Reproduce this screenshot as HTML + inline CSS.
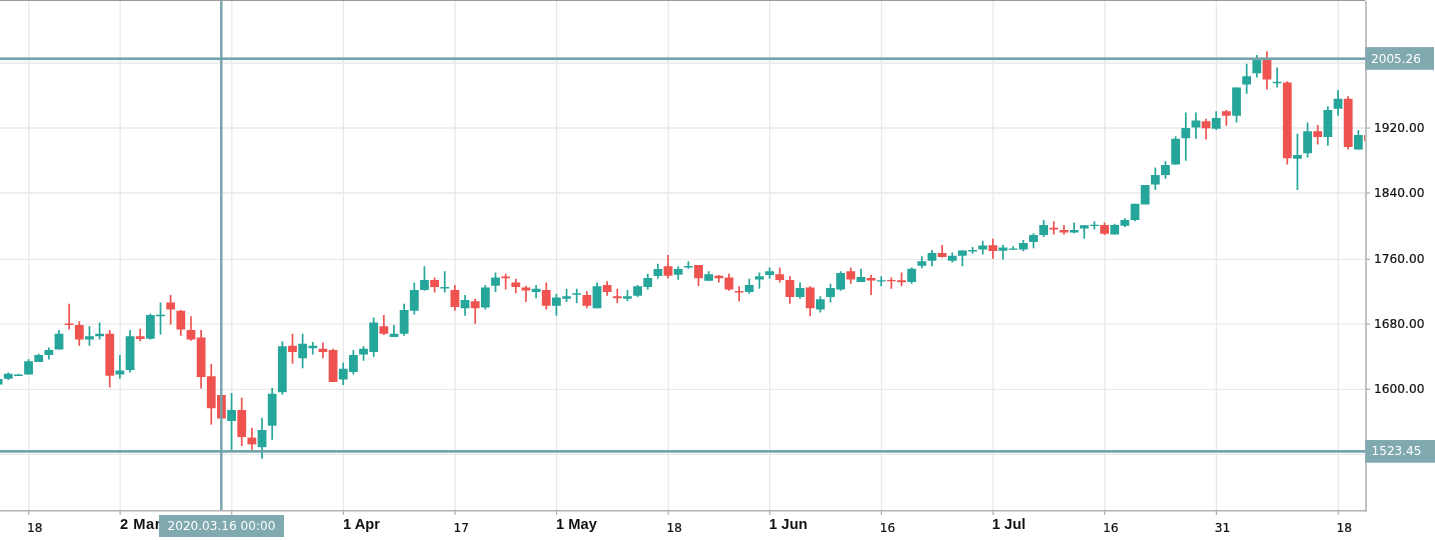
<!DOCTYPE html>
<html><head><meta charset="utf-8"><title>Chart</title>
<style>
html,body{margin:0;padding:0;background:#fff;}
body{width:1435px;height:540px;position:relative;overflow:hidden;font-family:"DejaVu Sans","Liberation Sans",sans-serif;}
.t{position:absolute;font-size:12.2px;line-height:15px;height:15px;white-space:nowrap;color:#111;-webkit-text-stroke:0.2px #111;}
.t.b{font-weight:bold;font-size:15px;line-height:17px;height:17px;font-family:"Liberation Sans",sans-serif;transform-origin:0 0;transform:scaleX(0.98);-webkit-text-stroke:0;}
.t.m{letter-spacing:0.5px;}
.t.w{color:#fff;-webkit-text-stroke:0;font-size:12.1px;}
.db{position:absolute;left:158.9px;top:515.2px;width:124.9px;height:22.2px;background:#80a9b0;}
</style></head><body>
<svg width="1435" height="540" viewBox="0 0 1435 540" style="position:absolute;left:0;top:0">
<defs><clipPath id="pane"><rect x="0" y="0" width="1365.3" height="510.5"/></clipPath></defs>
<g stroke="#e9e9e9" stroke-width="1.3" clip-path="url(#pane)">
<line x1="28.75" y1="0" x2="28.75" y2="510.5"/>
<line x1="120.11" y1="0" x2="120.11" y2="510.5"/>
<line x1="231.77" y1="0" x2="231.77" y2="510.5"/>
<line x1="343.43" y1="0" x2="343.43" y2="510.5"/>
<line x1="455.10" y1="0" x2="455.10" y2="510.5"/>
<line x1="556.61" y1="0" x2="556.61" y2="510.5"/>
<line x1="668.27" y1="0" x2="668.27" y2="510.5"/>
<line x1="769.78" y1="0" x2="769.78" y2="510.5"/>
<line x1="881.44" y1="0" x2="881.44" y2="510.5"/>
<line x1="993.10" y1="0" x2="993.10" y2="510.5"/>
<line x1="1104.76" y1="0" x2="1104.76" y2="510.5"/>
<line x1="1216.42" y1="0" x2="1216.42" y2="510.5"/>
<line x1="1338.23" y1="0" x2="1338.23" y2="510.5"/>
<line x1="0" y1="63" x2="1365.3" y2="63"/>
<line x1="0" y1="128" x2="1365.3" y2="128"/>
<line x1="0" y1="193" x2="1365.3" y2="193"/>
<line x1="0" y1="259.3" x2="1365.3" y2="259.3"/>
<line x1="0" y1="324.2" x2="1365.3" y2="324.2"/>
<line x1="0" y1="389.3" x2="1365.3" y2="389.3"/>
<line x1="0" y1="454.3" x2="1365.3" y2="454.3"/>
</g>
<g clip-path="url(#pane)">
<rect x="-2.75" y="378.5" width="1.7" height="6.50" fill="#26a69a"/>
<rect x="-6.30" y="379.0" width="8.8" height="5.50" fill="#26a69a"/>
<rect x="7.40" y="372.5" width="1.7" height="7.50" fill="#26a69a"/>
<rect x="3.85" y="373.75" width="8.8" height="5.00" fill="#26a69a"/>
<rect x="17.55" y="373.75" width="1.7" height="2.25" fill="#26a69a"/>
<rect x="14.00" y="374.5" width="8.8" height="1.50" fill="#26a69a"/>
<rect x="27.70" y="359.25" width="1.7" height="15.25" fill="#26a69a"/>
<rect x="24.15" y="361.25" width="8.8" height="13.25" fill="#26a69a"/>
<rect x="37.85" y="353.75" width="1.7" height="8.25" fill="#26a69a"/>
<rect x="34.30" y="355.0" width="8.8" height="7.00" fill="#26a69a"/>
<rect x="48.00" y="347.5" width="1.7" height="12.00" fill="#26a69a"/>
<rect x="44.45" y="350.0" width="8.8" height="5.00" fill="#26a69a"/>
<rect x="58.16" y="330.0" width="1.7" height="19.50" fill="#26a69a"/>
<rect x="54.61" y="333.75" width="8.8" height="15.75" fill="#26a69a"/>
<rect x="68.31" y="303.75" width="1.7" height="25.75" fill="#ef5350"/>
<rect x="64.76" y="323.5" width="8.8" height="1.50" fill="#ef5350"/>
<rect x="78.46" y="321.25" width="1.7" height="24.50" fill="#ef5350"/>
<rect x="74.91" y="325.0" width="8.8" height="14.50" fill="#ef5350"/>
<rect x="88.61" y="326.25" width="1.7" height="19.50" fill="#26a69a"/>
<rect x="85.06" y="336.25" width="8.8" height="3.25" fill="#26a69a"/>
<rect x="98.76" y="322.5" width="1.7" height="17.00" fill="#26a69a"/>
<rect x="95.21" y="333.75" width="8.8" height="2.50" fill="#26a69a"/>
<rect x="108.91" y="330.0" width="1.7" height="57.50" fill="#ef5350"/>
<rect x="105.36" y="333.75" width="8.8" height="42.00" fill="#ef5350"/>
<rect x="119.06" y="355.0" width="1.7" height="23.75" fill="#26a69a"/>
<rect x="115.51" y="370.5" width="8.8" height="4.00" fill="#26a69a"/>
<rect x="129.21" y="330.0" width="1.7" height="42.50" fill="#26a69a"/>
<rect x="125.66" y="336.25" width="8.8" height="33.75" fill="#26a69a"/>
<rect x="139.36" y="328.75" width="1.7" height="12.50" fill="#ef5350"/>
<rect x="135.81" y="336.25" width="8.8" height="2.75" fill="#ef5350"/>
<rect x="149.51" y="313.75" width="1.7" height="25.75" fill="#26a69a"/>
<rect x="145.96" y="315.0" width="8.8" height="23.75" fill="#26a69a"/>
<rect x="159.67" y="302.5" width="1.7" height="32.00" fill="#26a69a"/>
<rect x="156.12" y="314.75" width="8.8" height="1.50" fill="#26a69a"/>
<rect x="169.82" y="295.0" width="1.7" height="29.50" fill="#ef5350"/>
<rect x="166.27" y="302.5" width="8.8" height="7.00" fill="#ef5350"/>
<rect x="179.97" y="310.0" width="1.7" height="25.75" fill="#ef5350"/>
<rect x="176.42" y="310.75" width="8.8" height="18.75" fill="#ef5350"/>
<rect x="190.12" y="316.25" width="1.7" height="24.50" fill="#ef5350"/>
<rect x="186.57" y="330.0" width="8.8" height="9.50" fill="#ef5350"/>
<rect x="200.27" y="330.0" width="1.7" height="58.50" fill="#ef5350"/>
<rect x="196.72" y="337.5" width="8.8" height="39.50" fill="#ef5350"/>
<rect x="210.42" y="364.0" width="1.7" height="60.60" fill="#ef5350"/>
<rect x="206.87" y="376.25" width="8.8" height="32.00" fill="#ef5350"/>
<rect x="217.02" y="395.0" width="8.8" height="23.50" fill="#ef5350"/>
<rect x="230.72" y="393.0" width="1.7" height="56.80" fill="#26a69a"/>
<rect x="227.17" y="410.0" width="8.8" height="11.00" fill="#26a69a"/>
<rect x="240.87" y="397.6" width="1.7" height="48.40" fill="#ef5350"/>
<rect x="237.32" y="410.0" width="8.8" height="27.00" fill="#ef5350"/>
<rect x="251.03" y="427.8" width="1.7" height="22.00" fill="#ef5350"/>
<rect x="247.47" y="437.6" width="8.8" height="6.80" fill="#ef5350"/>
<rect x="261.18" y="417.8" width="1.7" height="40.90" fill="#26a69a"/>
<rect x="257.63" y="430.0" width="8.8" height="17.20" fill="#26a69a"/>
<rect x="271.33" y="388.0" width="1.7" height="51.75" fill="#26a69a"/>
<rect x="267.78" y="393.75" width="8.8" height="31.95" fill="#26a69a"/>
<rect x="281.48" y="341.25" width="1.7" height="53.45" fill="#26a69a"/>
<rect x="277.93" y="346.25" width="8.8" height="45.95" fill="#26a69a"/>
<rect x="291.63" y="333.75" width="1.7" height="30.00" fill="#ef5350"/>
<rect x="288.08" y="345.75" width="8.8" height="6.25" fill="#ef5350"/>
<rect x="301.78" y="333.75" width="1.7" height="34.50" fill="#26a69a"/>
<rect x="298.23" y="343.75" width="8.8" height="14.50" fill="#26a69a"/>
<rect x="311.93" y="342.0" width="1.7" height="12.50" fill="#26a69a"/>
<rect x="308.38" y="345.75" width="8.8" height="2.50" fill="#26a69a"/>
<rect x="322.08" y="342.5" width="1.7" height="15.75" fill="#ef5350"/>
<rect x="318.53" y="348.75" width="8.8" height="3.25" fill="#ef5350"/>
<rect x="332.23" y="348.75" width="1.7" height="33.25" fill="#ef5350"/>
<rect x="328.68" y="350.0" width="8.8" height="32.00" fill="#ef5350"/>
<rect x="342.38" y="362.5" width="1.7" height="22.50" fill="#26a69a"/>
<rect x="338.83" y="368.75" width="8.8" height="10.75" fill="#26a69a"/>
<rect x="352.53" y="350.0" width="1.7" height="24.50" fill="#26a69a"/>
<rect x="348.99" y="355.0" width="8.8" height="17.00" fill="#26a69a"/>
<rect x="362.69" y="346.25" width="1.7" height="14.50" fill="#26a69a"/>
<rect x="359.14" y="348.75" width="8.8" height="5.75" fill="#26a69a"/>
<rect x="372.84" y="317.5" width="1.7" height="39.50" fill="#26a69a"/>
<rect x="369.29" y="322.5" width="8.8" height="29.50" fill="#26a69a"/>
<rect x="382.99" y="315.0" width="1.7" height="20.00" fill="#ef5350"/>
<rect x="379.44" y="326.25" width="8.8" height="7.50" fill="#ef5350"/>
<rect x="393.14" y="325.0" width="1.7" height="12.00" fill="#26a69a"/>
<rect x="389.59" y="333.75" width="8.8" height="3.25" fill="#26a69a"/>
<rect x="403.29" y="303.75" width="1.7" height="32.00" fill="#26a69a"/>
<rect x="399.74" y="310.0" width="8.8" height="23.75" fill="#26a69a"/>
<rect x="413.44" y="282.5" width="1.7" height="32.00" fill="#26a69a"/>
<rect x="409.89" y="290.0" width="8.8" height="20.75" fill="#26a69a"/>
<rect x="423.59" y="266.25" width="1.7" height="24.50" fill="#26a69a"/>
<rect x="420.04" y="280.0" width="8.8" height="10.00" fill="#26a69a"/>
<rect x="433.74" y="277.5" width="1.7" height="15.00" fill="#ef5350"/>
<rect x="430.19" y="280.0" width="8.8" height="7.00" fill="#ef5350"/>
<rect x="443.89" y="271.25" width="1.7" height="21.25" fill="#26a69a"/>
<rect x="440.34" y="287.0" width="8.8" height="1.50" fill="#26a69a"/>
<rect x="454.05" y="285.0" width="1.7" height="25.75" fill="#ef5350"/>
<rect x="450.50" y="290.0" width="8.8" height="17.00" fill="#ef5350"/>
<rect x="464.20" y="295.0" width="1.7" height="20.75" fill="#26a69a"/>
<rect x="460.65" y="300.0" width="8.8" height="8.25" fill="#26a69a"/>
<rect x="474.35" y="298.75" width="1.7" height="25.00" fill="#ef5350"/>
<rect x="470.80" y="301.25" width="8.8" height="7.00" fill="#ef5350"/>
<rect x="484.50" y="285.0" width="1.7" height="24.50" fill="#26a69a"/>
<rect x="480.95" y="287.5" width="8.8" height="20.00" fill="#26a69a"/>
<rect x="494.65" y="272.5" width="1.7" height="19.50" fill="#26a69a"/>
<rect x="491.10" y="277.5" width="8.8" height="8.25" fill="#26a69a"/>
<rect x="504.80" y="273.75" width="1.7" height="15.75" fill="#ef5350"/>
<rect x="501.25" y="276.5" width="8.8" height="1.75" fill="#ef5350"/>
<rect x="514.95" y="278.75" width="1.7" height="14.50" fill="#ef5350"/>
<rect x="511.40" y="282.5" width="8.8" height="4.50" fill="#ef5350"/>
<rect x="525.10" y="285.75" width="1.7" height="16.25" fill="#ef5350"/>
<rect x="521.55" y="287.5" width="8.8" height="3.00" fill="#ef5350"/>
<rect x="535.25" y="285.0" width="1.7" height="13.25" fill="#26a69a"/>
<rect x="531.70" y="288.75" width="8.8" height="3.25" fill="#26a69a"/>
<rect x="545.40" y="282.5" width="1.7" height="27.00" fill="#ef5350"/>
<rect x="541.85" y="290.0" width="8.8" height="15.75" fill="#ef5350"/>
<rect x="555.55" y="293.75" width="1.7" height="22.00" fill="#26a69a"/>
<rect x="552.00" y="297.5" width="8.8" height="8.25" fill="#26a69a"/>
<rect x="565.71" y="288.75" width="1.7" height="13.25" fill="#26a69a"/>
<rect x="562.16" y="296.25" width="8.8" height="2.50" fill="#26a69a"/>
<rect x="575.86" y="288.75" width="1.7" height="14.50" fill="#26a69a"/>
<rect x="572.31" y="293.25" width="8.8" height="1.50" fill="#26a69a"/>
<rect x="586.01" y="291.25" width="1.7" height="17.00" fill="#ef5350"/>
<rect x="582.46" y="295.0" width="8.8" height="10.75" fill="#ef5350"/>
<rect x="596.16" y="282.5" width="1.7" height="25.75" fill="#26a69a"/>
<rect x="592.61" y="286.25" width="8.8" height="22.00" fill="#26a69a"/>
<rect x="606.31" y="281.25" width="1.7" height="14.50" fill="#ef5350"/>
<rect x="602.76" y="285.0" width="8.8" height="7.00" fill="#ef5350"/>
<rect x="616.46" y="288.75" width="1.7" height="14.50" fill="#ef5350"/>
<rect x="612.91" y="296.25" width="8.8" height="2.00" fill="#ef5350"/>
<rect x="626.61" y="290.0" width="1.7" height="11.25" fill="#26a69a"/>
<rect x="623.06" y="296.25" width="8.8" height="2.50" fill="#26a69a"/>
<rect x="636.76" y="285.0" width="1.7" height="12.00" fill="#26a69a"/>
<rect x="633.21" y="286.25" width="8.8" height="9.50" fill="#26a69a"/>
<rect x="646.91" y="273.75" width="1.7" height="15.75" fill="#26a69a"/>
<rect x="643.36" y="278.0" width="8.8" height="9.00" fill="#26a69a"/>
<rect x="657.06" y="263.75" width="1.7" height="14.75" fill="#26a69a"/>
<rect x="653.51" y="269.0" width="8.8" height="7.00" fill="#26a69a"/>
<rect x="667.22" y="255.0" width="1.7" height="23.50" fill="#ef5350"/>
<rect x="663.67" y="266.25" width="8.8" height="9.50" fill="#ef5350"/>
<rect x="677.37" y="266.25" width="1.7" height="13.50" fill="#26a69a"/>
<rect x="673.82" y="269.0" width="8.8" height="5.75" fill="#26a69a"/>
<rect x="687.52" y="261.25" width="1.7" height="7.50" fill="#26a69a"/>
<rect x="683.97" y="266.0" width="8.8" height="1.50" fill="#26a69a"/>
<rect x="697.67" y="265.0" width="1.7" height="21.00" fill="#ef5350"/>
<rect x="694.12" y="265.0" width="8.8" height="13.25" fill="#ef5350"/>
<rect x="707.82" y="271.25" width="1.7" height="9.50" fill="#26a69a"/>
<rect x="704.27" y="274.25" width="8.8" height="6.50" fill="#26a69a"/>
<rect x="717.97" y="275.0" width="1.7" height="7.50" fill="#ef5350"/>
<rect x="714.42" y="275.75" width="8.8" height="2.50" fill="#ef5350"/>
<rect x="728.12" y="273.75" width="1.7" height="17.00" fill="#ef5350"/>
<rect x="724.57" y="277.5" width="8.8" height="12.00" fill="#ef5350"/>
<rect x="738.27" y="286.25" width="1.7" height="15.00" fill="#ef5350"/>
<rect x="734.72" y="291.0" width="8.8" height="1.50" fill="#ef5350"/>
<rect x="748.42" y="278.75" width="1.7" height="15.00" fill="#26a69a"/>
<rect x="744.87" y="285.0" width="8.8" height="7.00" fill="#26a69a"/>
<rect x="758.57" y="272.5" width="1.7" height="16.25" fill="#26a69a"/>
<rect x="755.02" y="276.25" width="8.8" height="3.25" fill="#26a69a"/>
<rect x="768.73" y="267.5" width="1.7" height="11.25" fill="#26a69a"/>
<rect x="765.18" y="271.25" width="8.8" height="3.75" fill="#26a69a"/>
<rect x="778.88" y="267.5" width="1.7" height="15.00" fill="#ef5350"/>
<rect x="775.33" y="274.25" width="8.8" height="5.75" fill="#ef5350"/>
<rect x="789.03" y="276.25" width="1.7" height="27.50" fill="#ef5350"/>
<rect x="785.48" y="280.0" width="8.8" height="17.00" fill="#ef5350"/>
<rect x="799.18" y="282.5" width="1.7" height="16.25" fill="#26a69a"/>
<rect x="795.63" y="288.0" width="8.8" height="9.00" fill="#26a69a"/>
<rect x="809.33" y="286.25" width="1.7" height="30.00" fill="#ef5350"/>
<rect x="805.78" y="287.5" width="8.8" height="20.75" fill="#ef5350"/>
<rect x="819.48" y="296.25" width="1.7" height="16.25" fill="#26a69a"/>
<rect x="815.93" y="299.25" width="8.8" height="10.25" fill="#26a69a"/>
<rect x="829.63" y="283.75" width="1.7" height="18.75" fill="#26a69a"/>
<rect x="826.08" y="288.0" width="8.8" height="9.00" fill="#26a69a"/>
<rect x="839.78" y="271.25" width="1.7" height="19.50" fill="#26a69a"/>
<rect x="836.23" y="273.0" width="8.8" height="16.50" fill="#26a69a"/>
<rect x="849.93" y="267.5" width="1.7" height="16.25" fill="#ef5350"/>
<rect x="846.38" y="271.25" width="8.8" height="8.25" fill="#ef5350"/>
<rect x="860.09" y="268.75" width="1.7" height="13.25" fill="#26a69a"/>
<rect x="856.54" y="277.0" width="8.8" height="5.00" fill="#26a69a"/>
<rect x="870.24" y="275.0" width="1.7" height="20.00" fill="#ef5350"/>
<rect x="866.69" y="278.0" width="8.8" height="2.50" fill="#ef5350"/>
<rect x="880.39" y="276.25" width="1.7" height="10.00" fill="#26a69a"/>
<rect x="876.84" y="280.25" width="8.8" height="1.25" fill="#26a69a"/>
<rect x="890.54" y="277.5" width="1.7" height="11.25" fill="#ef5350"/>
<rect x="886.99" y="280.0" width="8.8" height="1.25" fill="#ef5350"/>
<rect x="900.69" y="272.5" width="1.7" height="13.75" fill="#ef5350"/>
<rect x="897.14" y="280.25" width="8.8" height="2.00" fill="#ef5350"/>
<rect x="910.84" y="267.5" width="1.7" height="16.25" fill="#26a69a"/>
<rect x="907.29" y="268.75" width="8.8" height="13.25" fill="#26a69a"/>
<rect x="920.99" y="256.25" width="1.7" height="12.00" fill="#26a69a"/>
<rect x="917.44" y="261.25" width="8.8" height="4.50" fill="#26a69a"/>
<rect x="931.14" y="250.0" width="1.7" height="16.25" fill="#26a69a"/>
<rect x="927.59" y="253.0" width="8.8" height="7.75" fill="#26a69a"/>
<rect x="941.29" y="245.0" width="1.7" height="12.50" fill="#ef5350"/>
<rect x="937.74" y="253.0" width="8.8" height="4.00" fill="#ef5350"/>
<rect x="951.44" y="252.5" width="1.7" height="10.00" fill="#26a69a"/>
<rect x="947.89" y="255.75" width="8.8" height="5.00" fill="#26a69a"/>
<rect x="961.60" y="250.5" width="1.7" height="15.75" fill="#26a69a"/>
<rect x="958.05" y="250.5" width="8.8" height="5.25" fill="#26a69a"/>
<rect x="971.75" y="247.0" width="1.7" height="6.75" fill="#26a69a"/>
<rect x="968.20" y="250.0" width="8.8" height="1.50" fill="#26a69a"/>
<rect x="981.90" y="240.75" width="1.7" height="13.75" fill="#26a69a"/>
<rect x="978.35" y="245.5" width="8.8" height="4.00" fill="#26a69a"/>
<rect x="992.05" y="238.75" width="1.7" height="20.00" fill="#ef5350"/>
<rect x="988.50" y="245.25" width="8.8" height="5.75" fill="#ef5350"/>
<rect x="1002.20" y="244.75" width="1.7" height="14.75" fill="#26a69a"/>
<rect x="998.65" y="247.5" width="8.8" height="3.25" fill="#26a69a"/>
<rect x="1012.35" y="246.25" width="1.7" height="3.50" fill="#26a69a"/>
<rect x="1008.80" y="248.5" width="8.8" height="1.25" fill="#26a69a"/>
<rect x="1022.50" y="240.0" width="1.7" height="11.25" fill="#26a69a"/>
<rect x="1018.95" y="243.0" width="8.8" height="6.50" fill="#26a69a"/>
<rect x="1032.65" y="233.25" width="1.7" height="15.00" fill="#26a69a"/>
<rect x="1029.10" y="235.0" width="8.8" height="7.00" fill="#26a69a"/>
<rect x="1042.80" y="220.0" width="1.7" height="17.00" fill="#26a69a"/>
<rect x="1039.25" y="225.0" width="8.8" height="10.00" fill="#26a69a"/>
<rect x="1052.95" y="221.25" width="1.7" height="13.25" fill="#ef5350"/>
<rect x="1049.40" y="227.75" width="8.8" height="1.75" fill="#ef5350"/>
<rect x="1063.11" y="225.0" width="1.7" height="9.50" fill="#ef5350"/>
<rect x="1059.55" y="230.0" width="8.8" height="2.50" fill="#ef5350"/>
<rect x="1073.26" y="222.5" width="1.7" height="10.75" fill="#26a69a"/>
<rect x="1069.71" y="230.0" width="8.8" height="2.50" fill="#26a69a"/>
<rect x="1083.41" y="225.25" width="1.7" height="13.50" fill="#26a69a"/>
<rect x="1079.86" y="225.25" width="8.8" height="3.25" fill="#26a69a"/>
<rect x="1093.56" y="221.25" width="1.7" height="8.25" fill="#26a69a"/>
<rect x="1090.01" y="224.75" width="8.8" height="1.25" fill="#26a69a"/>
<rect x="1103.71" y="222.5" width="1.7" height="12.50" fill="#ef5350"/>
<rect x="1100.16" y="225.0" width="8.8" height="8.75" fill="#ef5350"/>
<rect x="1113.86" y="223.75" width="1.7" height="10.75" fill="#26a69a"/>
<rect x="1110.31" y="225.0" width="8.8" height="9.50" fill="#26a69a"/>
<rect x="1124.01" y="218.25" width="1.7" height="8.75" fill="#26a69a"/>
<rect x="1120.46" y="220.0" width="8.8" height="5.75" fill="#26a69a"/>
<rect x="1134.16" y="203.75" width="1.7" height="17.50" fill="#26a69a"/>
<rect x="1130.61" y="203.75" width="8.8" height="16.25" fill="#26a69a"/>
<rect x="1140.76" y="185.0" width="8.8" height="19.50" fill="#26a69a"/>
<rect x="1154.46" y="167.5" width="1.7" height="22.50" fill="#26a69a"/>
<rect x="1150.91" y="175.0" width="8.8" height="9.50" fill="#26a69a"/>
<rect x="1164.62" y="161.25" width="1.7" height="17.50" fill="#26a69a"/>
<rect x="1161.06" y="165.0" width="8.8" height="10.00" fill="#26a69a"/>
<rect x="1174.77" y="136.25" width="1.7" height="28.25" fill="#26a69a"/>
<rect x="1171.22" y="138.75" width="8.8" height="25.75" fill="#26a69a"/>
<rect x="1184.92" y="112.5" width="1.7" height="48.25" fill="#26a69a"/>
<rect x="1181.37" y="128.0" width="8.8" height="10.25" fill="#26a69a"/>
<rect x="1195.07" y="112.5" width="1.7" height="26.25" fill="#26a69a"/>
<rect x="1191.52" y="120.5" width="8.8" height="7.00" fill="#26a69a"/>
<rect x="1205.22" y="118.75" width="1.7" height="20.75" fill="#ef5350"/>
<rect x="1201.67" y="121.25" width="8.8" height="7.00" fill="#ef5350"/>
<rect x="1215.37" y="111.25" width="1.7" height="18.75" fill="#26a69a"/>
<rect x="1211.82" y="118.0" width="8.8" height="10.75" fill="#26a69a"/>
<rect x="1225.52" y="110.0" width="1.7" height="15.75" fill="#ef5350"/>
<rect x="1221.97" y="111.25" width="8.8" height="4.50" fill="#ef5350"/>
<rect x="1235.67" y="87.5" width="1.7" height="35.00" fill="#26a69a"/>
<rect x="1232.12" y="87.5" width="8.8" height="28.25" fill="#26a69a"/>
<rect x="1245.82" y="63.75" width="1.7" height="30.00" fill="#26a69a"/>
<rect x="1242.27" y="76.25" width="8.8" height="8.25" fill="#26a69a"/>
<rect x="1255.97" y="55.0" width="1.7" height="22.50" fill="#26a69a"/>
<rect x="1252.42" y="60.0" width="8.8" height="13.25" fill="#26a69a"/>
<rect x="1266.12" y="51.25" width="1.7" height="38.25" fill="#ef5350"/>
<rect x="1262.57" y="60.0" width="8.8" height="19.50" fill="#ef5350"/>
<rect x="1276.28" y="67.5" width="1.7" height="20.00" fill="#26a69a"/>
<rect x="1272.73" y="81.75" width="8.8" height="1.50" fill="#26a69a"/>
<rect x="1286.43" y="81.25" width="1.7" height="83.25" fill="#ef5350"/>
<rect x="1282.88" y="82.5" width="8.8" height="75.75" fill="#ef5350"/>
<rect x="1296.58" y="133.75" width="1.7" height="56.25" fill="#26a69a"/>
<rect x="1293.03" y="155.0" width="8.8" height="3.75" fill="#26a69a"/>
<rect x="1306.73" y="122.5" width="1.7" height="35.00" fill="#26a69a"/>
<rect x="1303.18" y="131.25" width="8.8" height="22.00" fill="#26a69a"/>
<rect x="1316.88" y="125.0" width="1.7" height="19.50" fill="#ef5350"/>
<rect x="1313.33" y="131.25" width="8.8" height="5.75" fill="#ef5350"/>
<rect x="1327.03" y="106.25" width="1.7" height="39.50" fill="#26a69a"/>
<rect x="1323.48" y="110.0" width="8.8" height="27.00" fill="#26a69a"/>
<rect x="1337.18" y="90.0" width="1.7" height="25.75" fill="#26a69a"/>
<rect x="1333.63" y="98.75" width="8.8" height="10.00" fill="#26a69a"/>
<rect x="1347.33" y="96.25" width="1.7" height="53.25" fill="#ef5350"/>
<rect x="1343.78" y="98.75" width="8.8" height="48.25" fill="#ef5350"/>
<rect x="1357.48" y="130.0" width="1.7" height="19.50" fill="#26a69a"/>
<rect x="1353.93" y="135.0" width="8.8" height="14.50" fill="#26a69a"/>
<rect x="1364.08" y="135.0" width="8.8" height="6.25" fill="#ef5350"/>
</g>
<rect x="0" y="57.4" width="1366" height="2.7" fill="#74a3ab"/>
<rect x="0" y="450.0" width="1366" height="2.7" fill="#74a3ab"/>
<rect x="220.1" y="0" width="2.4" height="510.5" fill="#74a3ab"/>
<rect x="0" y="0" width="1365.3" height="1" fill="#9a9a9a"/>
<rect x="1365.2" y="1" width="1.6" height="510.5" fill="#b4b4b4"/>
<rect x="0" y="510" width="1366.8" height="1.5" fill="#b4b4b4"/>
<g stroke="#adadad" stroke-width="1.2">
<line x1="1366" y1="128" x2="1370" y2="128"/>
<line x1="1366" y1="193" x2="1370" y2="193"/>
<line x1="1366" y1="259.3" x2="1370" y2="259.3"/>
<line x1="1366" y1="324.2" x2="1370" y2="324.2"/>
<line x1="1366" y1="389.3" x2="1370" y2="389.3"/>
<line x1="28.75" y1="511" x2="28.75" y2="515"/>
<line x1="120.11" y1="511" x2="120.11" y2="515"/>
<line x1="231.77" y1="511" x2="231.77" y2="515"/>
<line x1="343.43" y1="511" x2="343.43" y2="515"/>
<line x1="455.10" y1="511" x2="455.10" y2="515"/>
<line x1="556.61" y1="511" x2="556.61" y2="515"/>
<line x1="668.27" y1="511" x2="668.27" y2="515"/>
<line x1="769.78" y1="511" x2="769.78" y2="515"/>
<line x1="881.44" y1="511" x2="881.44" y2="515"/>
<line x1="993.10" y1="511" x2="993.10" y2="515"/>
<line x1="1104.76" y1="511" x2="1104.76" y2="515"/>
<line x1="1216.42" y1="511" x2="1216.42" y2="515"/>
<line x1="1338.23" y1="511" x2="1338.23" y2="515"/>
</g>
<rect x="1365.3" y="47.1" width="68.7" height="22.7" fill="#80a9b0"/>
<rect x="1365.3" y="440" width="69.7" height="22.7" fill="#80a9b0"/>
</svg>
<div class="t " style="left:1374.0px;top:120.5px">1920.00</div><div class="t " style="left:1374.0px;top:185.5px">1840.00</div><div class="t " style="left:1374.0px;top:251.8px">1760.00</div><div class="t " style="left:1374.0px;top:316.7px">1680.00</div><div class="t " style="left:1374.0px;top:381.8px">1600.00</div><div class="t " style="left:27.1px;top:520.7px">18</div><div class="t b m" style="left:120.30000000000001px;top:515.2px">2 Mar</div><div class="t b" style="left:342.7px;top:515.2px">1 Apr</div><div class="t " style="left:453.4px;top:520.7px">17</div><div class="t b" style="left:555.9px;top:515.2px">1 May</div><div class="t " style="left:666.6px;top:520.7px">18</div><div class="t b" style="left:769.1px;top:515.2px">1 Jun</div><div class="t " style="left:879.7px;top:520.7px">16</div><div class="t b" style="left:992.4px;top:515.2px">1 Jul</div><div class="t " style="left:1103.1px;top:520.7px">16</div><div class="t " style="left:1214.7px;top:520.7px">31</div><div class="t " style="left:1336.5px;top:520.7px">18</div><div class="t w" style="left:1371px;top:51.5px">2005.26</div><div class="t w" style="left:1371.5px;top:443.9px">1523.45</div>
<div class="db"></div><div class="t w" style="left:167.5px;top:518.7px">2020.03.16 00:00</div>
</body></html>
